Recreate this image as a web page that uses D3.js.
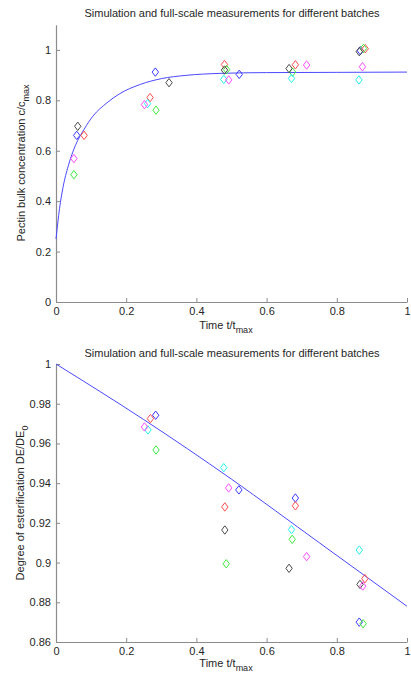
<!DOCTYPE html>
<html>
<head>
<meta charset="utf-8">
<script src="https://cdn.jsdelivr.net/npm/d3@7"></script>
<style>
body { margin: 0; background: #fff; }
text { font-family: "Liberation Sans", Arial, sans-serif; }
.axis path, .axis line { stroke: #8c8c8c; }
.axis text { fill: #262626; font-size: 11px; }
</style>
</head>
<body>
<div id="chart"></div>
<script>
var width = 411, height = 675;

// batch colours (order matches the series arrays)
var batchColors = ["#3a3aff", "#ff4d4d", "#3fe83f", "#4a4a4a", "#27f0f0", "#ff4dff"];

// ---- top chart: pectin bulk concentration, [t, c] per batch
var topBlue = [[0.059, 0.661], [0.283, 0.912], [0.522, 0.903], [0.867, 0.997]];
var topRed = [[0.080, 0.661], [0.268, 0.811], [0.480, 0.942], [0.682, 0.941], [0.881, 1.005]];
var topGreen = [[0.051, 0.505], [0.285, 0.761], [0.486, 0.922], [0.674, 0.912], [0.876, 1.006]];
var topBlack = [[0.062, 0.697], [0.322, 0.870], [0.480, 0.920], [0.664, 0.926], [0.864, 0.993]];
var topCyan = [[0.261, 0.787], [0.478, 0.883], [0.671, 0.887], [0.863, 0.881]];
var topMagenta = [[0.051, 0.569], [0.252, 0.783], [0.492, 0.881], [0.714, 0.940], [0.873, 0.933]];
// simulation curve
var topSimT = [0, 0.01, 0.02, 0.035, 0.055, 0.08, 0.105, 0.145, 0.18, 0.24, 0.3, 0.37, 0.47, 0.6, 0.8, 1];
var topSimY = [0.25, 0.37, 0.455, 0.54, 0.62, 0.685, 0.737, 0.79, 0.825, 0.863, 0.886, 0.899, 0.907, 0.910, 0.911, 0.912];
var topYTicks = [0, 0.2, 0.4, 0.6, 0.8, 1];

// ---- bottom chart: degree of esterification, [t, DE] per batch
var botBlue = [[0.284, 0.9742], [0.521, 0.9366], [0.682, 0.9325], [0.864, 0.870]];
var botRed = [[0.269, 0.9725], [0.481, 0.928], [0.682, 0.9286], [0.880, 0.8919]];
var botGreen = [[0.285, 0.9567], [0.485, 0.8994], [0.673, 0.9117], [0.875, 0.8692]];
var botBlack = [[0.481, 0.9164], [0.664, 0.8971], [0.866, 0.889]];
var botCyan = [[0.262, 0.9668], [0.478, 0.9478], [0.671, 0.9166], [0.864, 0.9063]];
var botMagenta = [[0.252, 0.9683], [0.492, 0.9376], [0.714, 0.903], [0.874, 0.8882]];
var botSimT = [0, 0.25, 0.5, 0.75, 1];
var botSimY = [1.0, 0.972, 0.942, 0.910, 0.878];
var botYTicks = [0.86, 0.88, 0.9, 0.92, 0.94, 0.96, 0.98, 1];

var xTicks = [0, 0.2, 0.4, 0.6, 0.8, 1];
var titleText = "Simulation and full-scale measurements for different batches";

var svg = d3.select("#chart").append("svg")
    .attr("width", width)
    .attr("height", height);

// matlab style diamond, a bit taller than wide
var diamond = {
    draw: function (ctx, size) {
        var w = 3.2, h = 4.2;
        ctx.moveTo(0, -h);
        ctx.lineTo(w, 0);
        ctx.lineTo(0, h);
        ctx.lineTo(-w, 0);
        ctx.closePath();
    }
};

function fmt(d) { return String(+d.toFixed(2)); }

function drawPanel(opt) {
    var x = d3.scaleLinear().domain([0, 1]).range([56, 407]);
    var y = d3.scaleLinear().domain(opt.yDomain).range([opt.bottom, opt.top]);
    var g = svg.append("g");

    g.append("g")
        .attr("class", "axis")
        .attr("transform", "translate(0," + opt.bottom + ")")
        .call(d3.axisBottom(x).tickValues(xTicks).tickFormat(fmt).tickSize(-4).tickSizeOuter(0).tickPadding(5))
        .call(function (a) { a.select(".domain").attr("stroke-width", 1.2); });

    g.append("g")
        .attr("class", "axis")
        .attr("transform", "translate(56,0)")
        .call(d3.axisLeft(y).tickValues(opt.yTicks).tickFormat(fmt).tickSize(-4).tickSizeOuter(0).tickPadding(5))
        .call(function (a) { a.select(".domain").attr("stroke-width", 1.2); });

    // simulation line
    var pts = opt.simT.map(function (t, i) { return [t, opt.simY[i]]; });
    g.append("path")
        .datum(pts)
        .attr("fill", "none")
        .attr("stroke", "#4a4aff")
        .attr("stroke-width", 1)
        .attr("d", d3.line()
            .x(function (d) { return x(d[0]); })
            .y(function (d) { return y(d[1]); })
            .curve(d3.curveMonotoneX));

    // measurements
    opt.series.forEach(function (s, k) {
        g.selectAll(".m" + k)
            .data(s)
            .enter().append("path")
            .attr("class", "m" + k)
            .attr("d", d3.symbol().type(diamond))
            .attr("transform", function (d) { return "translate(" + x(d[0]) + "," + y(d[1]) + ")"; })
            .attr("fill", "none")
            .attr("stroke", batchColors[k])
            .attr("stroke-width", 1);
    });

    g.append("text")
        .attr("x", 232)
        .attr("y", opt.titleY)
        .attr("text-anchor", "middle")
        .style("font-size", "11px")
        .style("fill", "#262626")
        .text(titleText);

    var xl = g.append("text")
        .attr("x", 226)
        .attr("y", opt.xLabelY)
        .attr("text-anchor", "middle")
        .style("font-size", "11px")
        .style("fill", "#262626");
    xl.append("tspan").text("Time t/t");
    xl.append("tspan").attr("dy", 4).style("font-size", "9px").text("max");

    var yl = g.append("text")
        .attr("transform", "translate(" + opt.yLabelX + "," + opt.yLabelY + ") rotate(-90)")
        .attr("text-anchor", "middle")
        .style("font-size", "11px")
        .style("fill", "#262626");
    yl.append("tspan").text(opt.yLabel);
    yl.append("tspan").attr("dy", 4).style("font-size", "9px").text(opt.yLabelSub);
}

drawPanel({
    yDomain: [0, 1.1], top: 24.7, bottom: 302,
    yTicks: topYTicks, simT: topSimT, simY: topSimY,
    series: [topBlue, topRed, topGreen, topBlack, topCyan, topMagenta],
    titleY: 17, xLabelY: 329, yLabelX: 25, yLabelY: 163,
    yLabel: "Pectin bulk concentration c/c", yLabelSub: "max"
});

drawPanel({
    yDomain: [0.86, 1], top: 364, bottom: 642,
    yTicks: botYTicks, simT: botSimT, simY: botSimY,
    series: [botBlue, botRed, botGreen, botBlack, botCyan, botMagenta],
    titleY: 357, xLabelY: 667, yLabelX: 24, yLabelY: 503,
    yLabel: "Degree of esterification DE/DE", yLabelSub: "0"
});
</script>
</body>
</html>
